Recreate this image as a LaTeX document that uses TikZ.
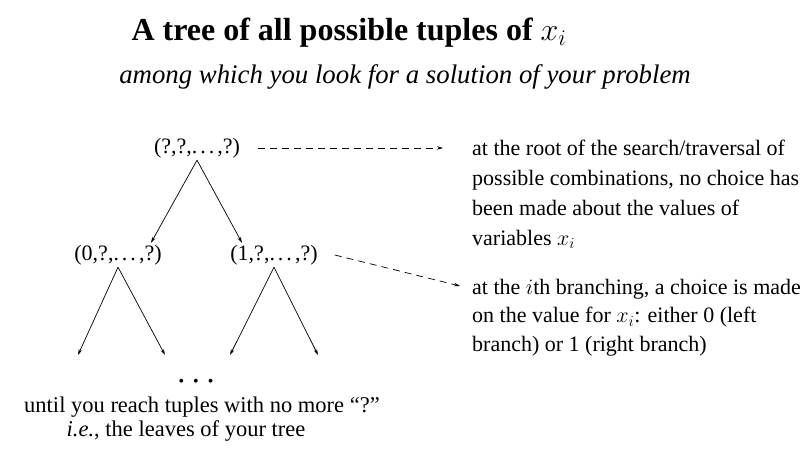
\RequirePackage{fix-cm}
\documentclass[tikz,border=0pt]{standalone}
\usepackage{fontspec}
\setmainfont{Liberation Serif}
\usetikzlibrary{arrows.meta, positioning, calc}
\newcommand{\tupledots}{.\kern3pt.\kern3pt.\kern3pt}

\begin{document}
\begin{tikzpicture}[
    x=1pt, y=-1pt,
    tuple/.style={font=\fontsize{22}{26}\selectfont, inner sep=2pt},
    note/.style={font=\fontsize{22}{30}\selectfont, align=left, anchor=north west, inner sep=0pt},
    branch/.style={line width=0.7pt, -{Stealth[length=6pt, width=3.5pt]}},
    pointer/.style={line width=0.7pt, dash pattern=on 7pt off 5pt, -{Stealth[length=6pt, width=3.5pt]}}
  ]
  \useasboundingbox (0,0) rectangle (807,452);

  % Heading
  \node[font=\fontsize{32}{36}\selectfont\bfseries] (title) at (349,33) {A tree of all possible tuples of $x_i$};
  \node[font=\fontsize{26.8}{32}\selectfont\itshape] (subtitle) at (405,77) {among which you look for a solution of your problem};

  % Search tree
  \node[tuple] (root) at (197,148) {(?,?,\tupledots,?)};
  \node[tuple] (zero) at (118,255) {(0,?,\tupledots,?)};
  \node[tuple] (one) at (274,255) {(1,?,\tupledots,?)};
  \coordinate (zero-l) at (78,355);
  \coordinate (zero-r) at (165,355);
  \coordinate (one-l) at (230,355);
  \coordinate (one-r) at (318,355);

  \draw[branch] (root.south) -- ([xshift=33pt]zero.north);
  \draw[branch] (root.south) -- ([xshift=-32pt]one.north);
  \draw[branch] (zero.south) -- (zero-l);
  \draw[branch] (zero.south) -- (zero-r);
  \draw[branch] (one.south) -- (one-l);
  \draw[branch] (one.south) -- (one-r);

  \node[font=\fontsize{16}{16}\selectfont] (dots) at (196,383) {\textbullet\hspace{9pt}\textbullet\hspace{9pt}\textbullet};

  % Leaves
  \node[font=\fontsize{22.5}{24}\selectfont] (until) at (202,407) {until you reach tuples with no more “?”};
  \node[font=\fontsize{22.5}{24}\selectfont] (leaves) at (186,431) {\textit{i.e.}, the leaves of your tree};

  % Notes on the right
  \node[note] (rootnote) at (472,140) {at the root of the search/traversal of\\possible combinations, no choice has\\been made about the values of\\variables $x_i$};
  \node[note, font=\fontsize{22}{28.5}\selectfont] (branchnote) at (472,279) {at the $i$th branching, a choice is made\\on the value for $x_i$: either 0 (left\\branch) or 1 (right branch)};
  \coordinate (branchtip) at (460,286);

  \draw[pointer, shorten <=16pt, shorten >=29pt] (root.east) -- (rootnote.west |- root);
  \draw[pointer] ([xshift=15pt]one.east) -- (branchtip);
\end{tikzpicture}
\end{document}
